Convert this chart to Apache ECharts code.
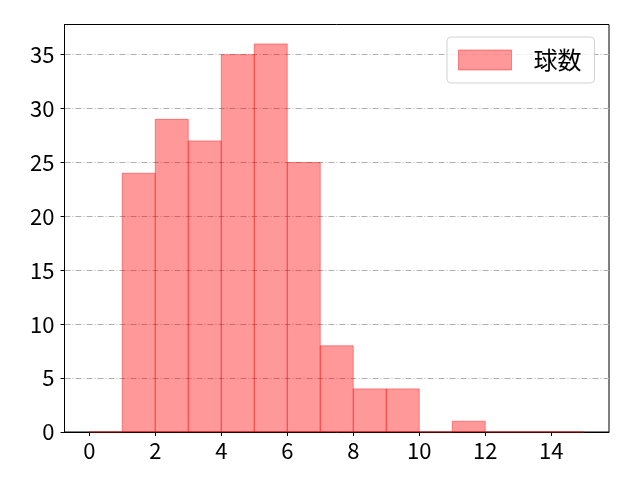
<!DOCTYPE html>
<html>
<head>
    <meta charset="utf-8">
    <title>球数</title>
    <script src="https://cdn.jsdelivr.net/npm/echarts@6/dist/echarts.min.js"></script>
    <style>
        html, body { margin: 0; padding: 0; background: #fff; }
        #main { width: 640px; height: 480px; }
    </style>
</head>
<body>
<div id="main"></div>
<script type="text/javascript">
    // ヒストグラムのデータ
    var seriesName = '球数';
    var binStarts = [0, 1, 2, 3, 4, 5, 6, 7, 8, 9, 10, 11, 12, 13, 14];
    var binEnds = [1, 2, 3, 4, 5, 6, 7, 8, 9, 10, 11, 12, 13, 14, 15];
    var counts = [0, 24, 29, 27, 35, 36, 25, 8, 4, 4, 0, 1, 0, 0, 0];
    var xTicks = [0, 2, 4, 6, 8, 10, 12, 14];
    var yTicks = [0, 5, 10, 15, 20, 25, 30, 35];

    var font = '"Noto Sans CJK JP", "Noto Sans", sans-serif';
    var barData = [];
    for (var i = 0; i < counts.length; i++) {
        barData.push([binStarts[i], binEnds[i], counts[i]]);
    }

    var myChart = echarts.init(document.getElementById('main'));

    var option = {
        animation: false,
        backgroundColor: '#fff',
        grid: {
            left: 64.5, right: 31, top: 24.5, bottom: 48,
            show: true, borderColor: '#000', borderWidth: 1
        },
        legend: {
            left: 447, top: 37,
            padding: [11, 13, 11, 11],
            borderColor: 'rgba(200,200,200,0.8)',
            borderWidth: 1,
            borderRadius: 4,
            backgroundColor: 'rgba(255,255,255,0.8)',
            itemWidth: 53,
            itemHeight: 20,
            textStyle: { fontFamily: font, fontSize: 24, color: '#000', padding: [0, 0, 0, 17] },
            data: [{
                name: seriesName,
                icon: 'rect',
                itemStyle: { color: 'rgba(255,0,0,0.4)', borderColor: 'rgba(255,0,0,0.4)', borderWidth: 1 }
            }]
        },
        xAxis: {
            type: 'value',
            min: -0.75,
            max: 15.75,
            splitLine: { show: false },
            axisLine: { show: true, onZero: false, lineStyle: { color: '#000', width: 1 } },
            axisTick: { show: true, length: 4, customValues: xTicks, lineStyle: { color: '#000' } },
            axisLabel: { customValues: xTicks, fontFamily: font, fontSize: 22, color: '#000', margin: 8 }
        },
        yAxis: {
            type: 'value',
            min: 0,
            max: 37.8,
            axisLine: { show: true, onZero: false, lineStyle: { color: '#000', width: 1 } },
            axisTick: { show: true, length: 4, customValues: yTicks, lineStyle: { color: '#000' } },
            axisLabel: { customValues: yTicks, fontFamily: font, fontSize: 22, color: '#000', margin: 10 },
            splitLine: {
                show: true,
                lineStyle: { color: '#b0b0b0', width: 1, type: [6, 2, 1, 2] }
            }
        },
        series: [{
            name: seriesName,
            type: 'custom',
            encode: { x: [0, 1], y: 2 },
            itemStyle: { color: 'rgba(255,0,0,0.4)', borderColor: 'rgba(255,0,0,0.4)', borderWidth: 1 },
            renderItem: function (params, api) {
                var p0 = api.coord([api.value(0), api.value(2)]);
                var p1 = api.coord([api.value(1), 0]);
                return {
                    type: 'rect',
                    shape: { x: p0[0], y: p0[1], width: p1[0] - p0[0], height: p1[1] - p0[1] },
                    style: api.style()
                };
            },
            data: barData
        }]
    };

    myChart.setOption(option);
</script>
</body>
</html>
